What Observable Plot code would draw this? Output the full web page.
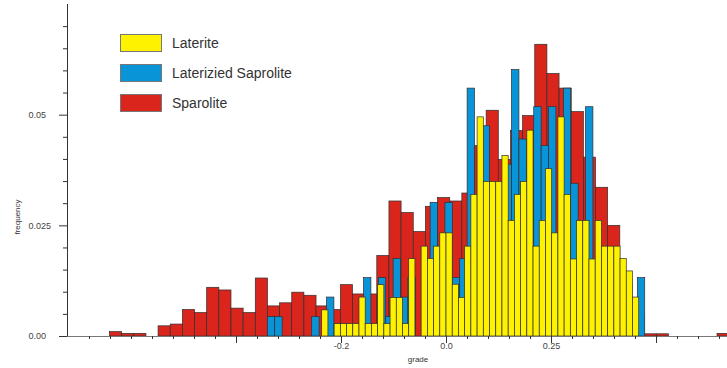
<!DOCTYPE html>
<html>
<head>
<meta charset="utf-8">
<script src="https://cdn.jsdelivr.net/npm/d3@7"></script>
<script src="https://cdn.jsdelivr.net/npm/@observablehq/plot@0.6"></script>
<style>
  body { margin: 0; background: #fff; }
  #chart { position: relative; width: 727px; height: 368px; font-family: "Liberation Sans", Arial, sans-serif; }
  #chart svg { position: absolute; left: 0; top: 0; }
  .legend { position: absolute; left: 120px; top: 34px; }
  .legend .row { display: flex; align-items: center; height: 18px; margin-bottom: 12px; }
  .legend .swatch { width: 42px; height: 18px; border: 1px solid #777; box-sizing: border-box; margin-right: 10px; }
  .legend span { font-size: 14px; color: #333; }
  .ytitle { position: absolute; left: 17px; top: 217px; transform: translate(-50%, -50%) rotate(-90deg); font-size: 8px; color: #333; white-space: nowrap; }
  .xtitle { position: absolute; left: 418px; top: 355px; transform: translateX(-50%); font-size: 8px; color: #333; }
</style>
</head>
<body>
<div id="chart"></div>
<script>
// Series names and fill colours
const seriesNames = ["Laterite", "Laterizied Saprolite", "Sparolite"];
const seriesColors = ["#fff200", "#0a94d8", "#da251d"];

// Sparolite histogram: first bin start (grade), bin width, relative frequencies
const sparoliteStart = -0.8302;
const sparoliteWidth = 0.02893;
const sparoliteFreq = [
  0, 0.001, 0.0006, 0.0006, 0, 0.0023, 0.0027, 0.006, 0.0053, 0.011,
  0.0104, 0.0063, 0.0053, 0.0131, 0.0068, 0.0075, 0.0099, 0.0092, 0.0068, 0.006,
  0.0116, 0.0095, 0.0095, 0.0182, 0.0305, 0.0279, 0.0236, 0.0293, 0.0313, 0.0305,
  0.0323, 0.043, 0.051, 0.0399, 0.0464, 0.0498, 0.0659, 0.0593, 0.056, 0.0507,
  0.0404, 0.0336, 0.025, 0.012, 0.005, 0.0005, 0.0005, 0, 0, 0,
  0, 0.0006
];

// Laterizied Saprolite histogram
const saproliteStart = -0.4255;
const saproliteWidth = 0.01762;
const saproliteFreq = [
  0.0044, 0.0044, 0, 0, 0, 0, 0.0044, 0, 0.0088, 0,
  0, 0, 0, 0.0132, 0, 0.0132, 0.0044, 0.0175, 0.0088, 0.0132,
  0, 0.0132, 0.0302, 0.0175, 0.0302, 0.0132, 0.0175, 0.056, 0.0302, 0.0475,
  0.0302, 0.0345, 0.0388, 0.0602, 0.0445, 0.0388, 0.0518, 0.043, 0.0518, 0.0219,
  0.056, 0.0345, 0.0219, 0.0518, 0.0132, 0.0132, 0.0132, 0.0088, 0.0088, 0.0044,
  0.0132
];

// Laterite histogram
const lateriteStart = -0.296;
const lateriteWidth = 0.0148;
const lateriteFreq = [
  0.0059, 0, 0.0028, 0.0028, 0.0028, 0.0028, 0.0088, 0.0028, 0.0028, 0.0116,
  0.0028, 0.0087, 0.0087, 0.0028, 0.0175, 0, 0.0203, 0.0175, 0.0203, 0.0233,
  0.0233, 0.0117, 0.0087, 0.0203, 0.032, 0.0495, 0.0349, 0.0349, 0.0349, 0.0408,
  0.0261, 0.032, 0.0349, 0.0465, 0.0203, 0.0261, 0.0378, 0.0233, 0.0495, 0.032,
  0.0174, 0.0261, 0.0261, 0.0174, 0.0261, 0.0203, 0.0203, 0.0203, 0.0175, 0.0147,
  0.0088
];

// Axis ticks and labels
const xDomain = [-0.9024, 0.669];
const yDomain = [0, 0.075];
const xMajorTicks = [-0.5, -0.25, 0, 0.25, 0.5];
const xMinorTicks = [-0.85, -0.8, -0.75, -0.7, -0.65, -0.6, -0.55, -0.45, -0.4, -0.35, -0.3, -0.2, -0.15, -0.1, -0.05,
  0.05, 0.1, 0.15, 0.2, 0.3, 0.35, 0.4, 0.45, 0.55, 0.6, 0.65];
const xLabelTicks = [-0.25, 0, 0.25];
const xTickLabels = ["-0.2", "0.0", "0.25"];
const yMajorTicks = [0, 0.025, 0.05];
const yTickLabels = ["0.00", "0.025", "0.05"];
const yMinorTicks = [0.005, 0.01, 0.015, 0.02, 0.03, 0.035, 0.04, 0.045, 0.055, 0.06, 0.065, 0.07];

function toBins(series, start, width, freq) {
  return freq
    .map((f, i) => ({ series, x1: start + i * width, x2: start + (i + 1) * width, f }))
    .filter(d => d.f > 0);
}

const bars = [
  ...toBins(seriesNames[2], sparoliteStart, sparoliteWidth, sparoliteFreq),
  ...toBins(seriesNames[1], saproliteStart, saproliteWidth, saproliteFreq),
  ...toBins(seriesNames[0], lateriteStart, lateriteWidth, lateriteFreq)
];

const axisColor = "#333";

const svg = Plot.plot({
  width: 727,
  height: 368,
  marginLeft: 67,
  marginRight: 0,
  marginTop: 4,
  marginBottom: 32,
  style: { fontFamily: "Liberation Sans, Arial, sans-serif", background: "#fff" },
  x: { domain: xDomain, label: null },
  y: { domain: yDomain, label: null },
  color: { domain: seriesNames, range: seriesColors },
  marks: [
    Plot.rectY(bars, { x1: "x1", x2: "x2", y1: 0, y2: "f", fill: "series", stroke: "#2e2e2e", strokeWidth: 0.7 }),
    Plot.ruleY([0], { stroke: "#777", strokeWidth: 1 }),
    Plot.ruleX([xDomain[0]], { stroke: axisColor, strokeWidth: 1 }),
    Plot.axisY(yMajorTicks, { tickSize: 8, tickFormat: () => "", stroke: axisColor, label: null }),
    Plot.axisY(yMinorTicks, { tickSize: 4, tickFormat: () => "", stroke: axisColor, label: null }),
    Plot.text(yMajorTicks, { y: d => d, text: (d, i) => yTickLabels[i], frameAnchor: "left", dx: -39, textAnchor: "start", fontSize: 9, fill: "#444" }),
    Plot.axisX(xMajorTicks, { tickSize: 7, tickFormat: () => "", stroke: axisColor, label: null }),
    Plot.axisX(xMinorTicks, { tickSize: 3, tickFormat: () => "", stroke: axisColor, label: null }),
    Plot.text(xLabelTicks, { x: d => d, text: (d, i) => xTickLabels[i], frameAnchor: "bottom", dy: 6, lineAnchor: "top", fontSize: 9, fill: "#444" })
  ]
});

const chart = document.getElementById("chart");
chart.appendChild(svg);

// Legend
const legend = document.createElement("div");
legend.className = "legend";
seriesNames.forEach((name, i) => {
  const row = document.createElement("div");
  row.className = "row";
  const sw = document.createElement("div");
  sw.className = "swatch";
  sw.style.background = seriesColors[i];
  const label = document.createElement("span");
  label.textContent = name;
  row.appendChild(sw);
  row.appendChild(label);
  legend.appendChild(row);
});
chart.appendChild(legend);

// Axis titles
const yTitle = document.createElement("div");
yTitle.className = "ytitle";
yTitle.textContent = "frequency";
chart.appendChild(yTitle);
const xTitle = document.createElement("div");
xTitle.className = "xtitle";
xTitle.textContent = "grade";
chart.appendChild(xTitle);
</script>
</body>
</html>
